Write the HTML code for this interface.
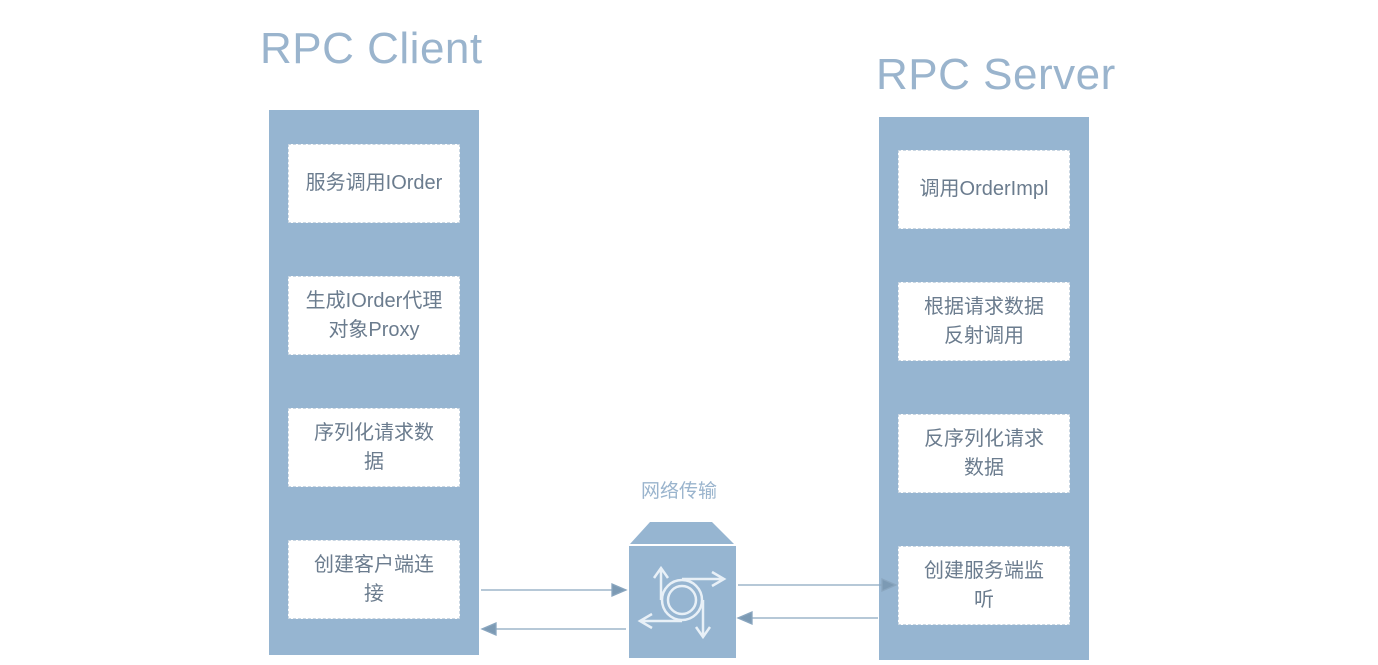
<!DOCTYPE html>
<html><head><meta charset="utf-8"><style>
body{margin:0;width:1378px;height:665px;background:#fff;position:relative;overflow:hidden;font-family:"Liberation Sans","Noto Sans CJK SC",sans-serif}
.t{position:absolute;color:#9ab4cd;font-size:44px;font-family:"Liberation Sans","Noto Sans CJK SC",sans-serif;font-weight:normal;letter-spacing:0.5px}
.col{position:absolute;background:#96b5d1;width:210px}
.b{position:absolute;left:19px;width:170px;height:77px;background:#fff;border:1px dashed #c9d6e2;display:flex;align-items:center;justify-content:center;text-align:center;color:#6b7c8e;font-size:20px;line-height:29px}
</style></head><body>
<div class="t" style="left:260px;top:24px">RPC Client</div>
<div class="t" style="left:876px;top:50px">RPC Server</div>
<div class="col" style="left:269px;top:110px;height:545px">
<div class="b" style="top:34px">服务调用IOrder</div>
<div class="b" style="top:166px">生成IOrder代理<br>对象Proxy</div>
<div class="b" style="top:298px">序列化请求数<br>据</div>
<div class="b" style="top:430px">创建客户端连<br>接</div>
</div>
<div class="col" style="left:879px;top:117px;height:543px">
<div class="b" style="top:33px">调用OrderImpl</div>
<div class="b" style="top:165px">根据请求数据<br>反射调用</div>
<div class="b" style="top:297px">反序列化请求<br>数据</div>
<div class="b" style="top:429px">创建服务端监<br>听</div>
</div>
<div style="position:absolute;left:641px;top:476px;color:#9ab4cd;font-size:19px">网络传输</div>
<svg width="1378" height="665" style="position:absolute;left:0;top:0">
<polygon points="650,522 712,522 734,544 630,544" fill="#96b5d1"/>
<rect x="629" y="546" width="107" height="112" fill="#96b5d1"/>
<g fill="none" stroke="#e8f0f7" stroke-width="2.5">
<circle cx="682" cy="600" r="20"/>
<circle cx="682" cy="600" r="14"/>
<path d="M661,600 L661,570 M654,578 L661,568 L668,578"/>
<path d="M682,579 L722,579 M712,572 L724,579 L712,586"/>
<path d="M703,600 L703,635 M696,627 L703,637 L710,627"/>
<path d="M682,621 L642,621 M652,614 L640,621 L652,628"/>
</g>
<g stroke="#8aa6bf" stroke-width="1.3" fill="#7c9ab4">
<line x1="481" y1="590" x2="614" y2="590"/><polygon points="626,590 612,584 612,596"/>
<line x1="626" y1="629" x2="494" y2="629"/><polygon points="482,629 496,623 496,635"/>
<line x1="738" y1="585" x2="884" y2="585"/><polygon points="896,585 882,579 882,591"/>
<line x1="878" y1="618" x2="750" y2="618"/><polygon points="738,618 752,612 752,624"/>
</g>
</svg>
</body></html>
